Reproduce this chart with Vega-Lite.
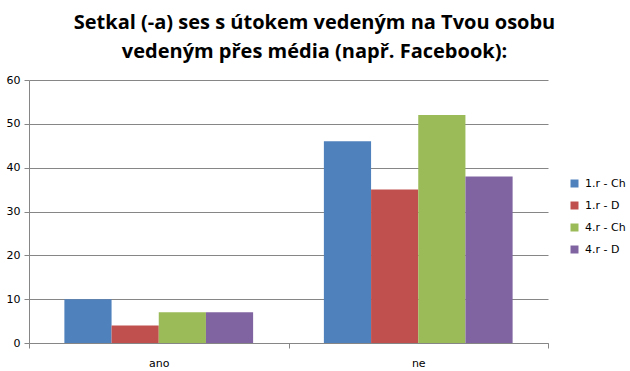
{
  "$schema": "https://vega.github.io/schema/vega-lite/v6.json",
  "width": 519,
  "height": 263,
  "autosize": {"type": "none"},
  "padding": {"left": 29, "top": 80, "right": 82, "bottom": 28},
  "background": "white",
  "title": {
    "text": ["Setkal (-a) ses s útokem vedeným na Tvou osobu", "vedeným přes média (např. Facebook):"],
    "font": "Open Sans",
    "fontSize": 20,
    "fontWeight": "bold",
    "color": "#000000",
    "anchor": "middle",
    "frame": "group",
    "dx": 26,
    "offset": 12,
    "lineHeight": 29
  },
  "data": {
    "values": [
      {"kat": "ano", "serie": "1.r - Ch", "hodnota": 10},
      {"kat": "ano", "serie": "1.r - D", "hodnota": 4},
      {"kat": "ano", "serie": "4.r - Ch", "hodnota": 7},
      {"kat": "ano", "serie": "4.r - D", "hodnota": 7},
      {"kat": "ne", "serie": "1.r - Ch", "hodnota": 46},
      {"kat": "ne", "serie": "1.r - D", "hodnota": 35},
      {"kat": "ne", "serie": "4.r - Ch", "hodnota": 52},
      {"kat": "ne", "serie": "4.r - D", "hodnota": 38}
    ]
  },
  "mark": {"type": "bar"},
  "encoding": {
    "x": {
      "field": "kat",
      "type": "nominal",
      "scale": {"paddingInner": 0, "paddingOuter": 0},
      "axis": {
        "title": null,
        "labelAngle": 0,
        "labelFont": "DejaVu Sans",
        "labelFontSize": 11,
        "labelColor": "#000000",
        "labelPadding": 9,
        "tickBand": "extent",
        "tickColor": "#868686",
        "tickSize": 5,
        "domainColor": "#868686",
        "grid": false
      }
    },
    "xOffset": {"field": "serie", "type": "nominal", "scale": {"paddingInner": 0, "paddingOuter": 0.75}},
    "y": {
      "field": "hodnota",
      "type": "quantitative",
      "scale": {"domain": [0, 60], "nice": false},
      "axis": {
        "title": null,
        "values": [0, 10, 20, 30, 40, 50, 60],
        "labelFont": "DejaVu Sans",
        "labelFontSize": 11,
        "labelColor": "#000000",
        "labelPadding": 4,
        "tickColor": "#868686",
        "tickSize": 5,
        "domainColor": "#868686",
        "gridColor": "#868686",
        "gridOpacity": 1
      }
    },
    "color": {
      "field": "serie",
      "type": "nominal",
      "scale": {
        "domain": ["1.r - Ch", "1.r - D", "4.r - Ch", "4.r - D"],
        "range": ["#4F81BD", "#C0504D", "#9BBB59", "#8064A2"]
      },
      "legend": {
        "title": null,
        "orient": "none",
        "legendX": 540,
        "legendY": 98,
        "symbolType": "square",
        "symbolSize": 64,
        "symbolStrokeWidth": 0,
        "labelFont": "DejaVu Sans",
        "labelFontSize": 11,
        "labelColor": "#000000",
        "rowPadding": 10,
        "labelOffset": 5,
        "padding": 0
      }
    }
  },
  "config": {"view": {"stroke": null}}
}
